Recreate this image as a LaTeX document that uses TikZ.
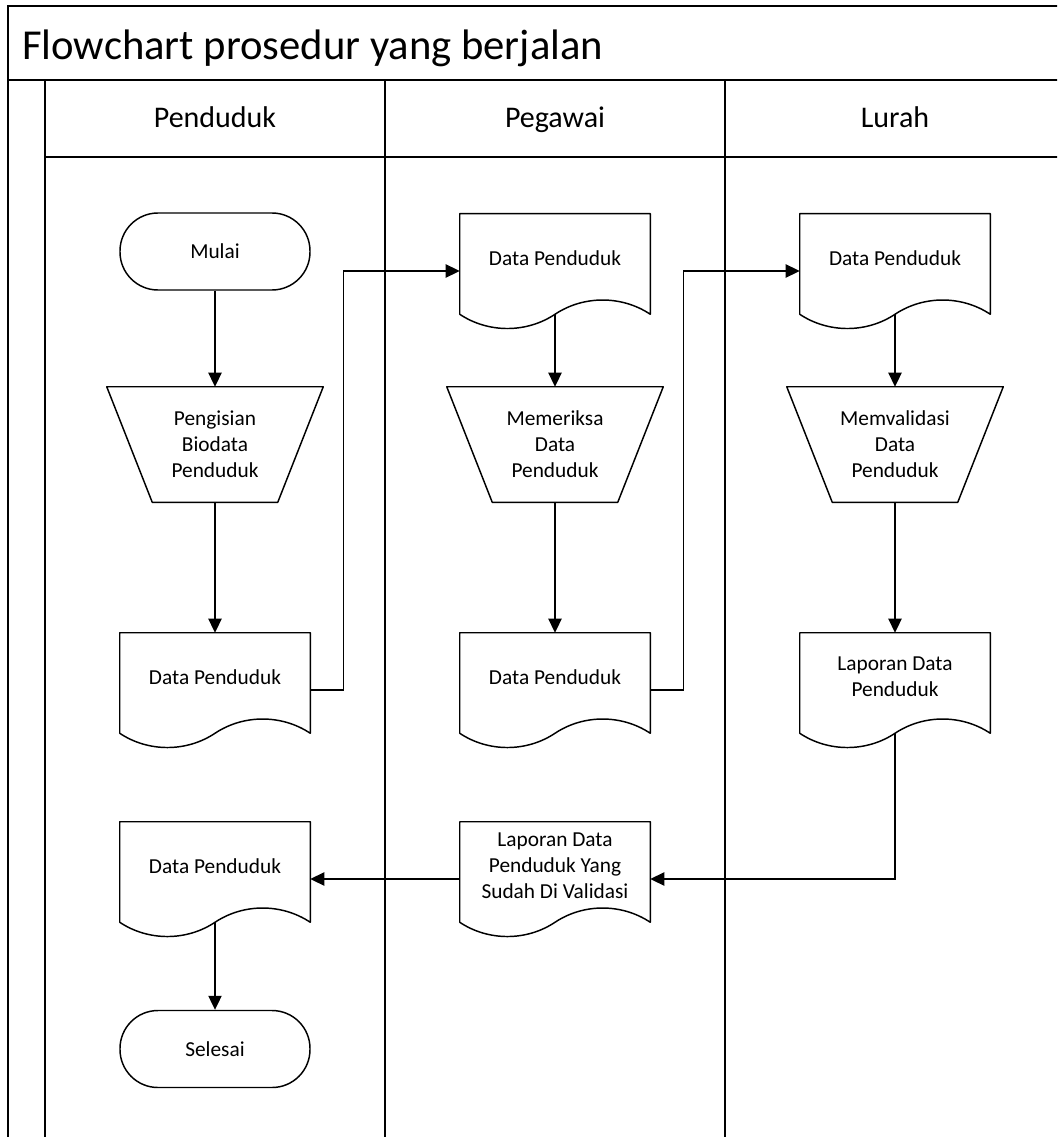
\documentclass[tikz,border=0pt]{standalone}
\usepackage{fontspec}
\setmainfont{Carlito}
\usetikzlibrary{arrows.meta,calc}
\tikzset{
  frameline/.style={line width=1.5pt, line cap=rect},
  outline/.style={line width=1.1pt, line join=round},
  conn/.style={line width=0.8pt, -{Triangle[length=10.5pt,width=10pt]}},
  txt/.style={font=\fontsize{16}{19.5}\selectfont, align=center, inner sep=0pt},
  docnode/.style={draw=none, inner sep=0pt, minimum width=142.5pt, minimum height=85.5pt},
  trapnode/.style={txt, draw=none, minimum width=162pt, minimum height=86.25pt},
  term/.style={txt, outline, draw, rounded corners=28.5pt, minimum width=142.5pt, minimum height=57.75pt},
  header/.style={font=\fontsize{22.5}{26}\selectfont, anchor=base},
}
\newcommand{\docshape}[4]{%
  \node[docnode] (#1) at (#2,#3+57) {};
  \draw[outline] (#1.north west) -- (#1.north east) -- ($(#1.south east)+(0,-14)$)
    .. controls +(-28.5,-19) and +(28.5,-19) .. ($(#1.south)+(0,-14)$)
    .. controls +(-28.5,19) and +(28.5,19) .. ($(#1.south west)+(0,-14)$) -- cycle;
  \node[txt] (#1-text) at ([yshift=9.75pt]#1.center) {#4};
}
\newcommand{\trapshape}[4]{%
  \node[trapnode] (#1) at (#2,#3) {#4};
  \draw[outline] (#1.north west) -- (#1.north east) -- ($(#1.south east)+(-45.5,0)$)
    -- ($(#1.south west)+(45.5,0)$) -- cycle;
}
\begin{document}
\begin{tikzpicture}[x=0.75pt,y=-0.75pt]
\useasboundingbox (0,0) rectangle (1057,1137);
\clip (0,0) rectangle (1057,1137);
\fill[white] (0,0) rectangle (1057,1137);
% frame
\draw[frameline] (1060,6) -- (8,6) -- (8,1140);
\draw[frameline] (8,80) -- (1060,80);
\draw[frameline] (45,80) -- (45,1140);
\draw[frameline] (45,157) -- (1060,157);
\draw[frameline] (385,80) -- (385,1140);
\draw[frameline] (725,80) -- (725,1140);
\node[anchor=base west, font=\fontsize{32}{40}\selectfont, inner sep=0pt] (title) at (22,60) {Flowchart prosedur yang berjalan};
\node[header] (hpend) at (215,128) {Penduduk};
\node[header] (hpeg) at (555,128) {Pegawai};
\node[header] (hlur) at (895,128) {Lurah};
% Penduduk lane
\node[term] (mulai) at (215,251.5) {Mulai};
\trapshape{isi}{215}{444.5}{Pengisian\\Biodata\\Penduduk}
\docshape{pdd1}{215}{633}{Data Penduduk}
\docshape{pdd2}{215}{822}{Data Penduduk}
\node[term] (selesai) at (215,1049) {Selesai};
% Pegawai lane
\docshape{pgd1}{555}{214}{Data Penduduk}
\trapshape{pgt}{555}{444.5}{Memeriksa\\Data\\Penduduk}
\docshape{pgd2}{555}{633}{Data Penduduk}
\docshape{pgd3}{555}{822}{Laporan Data\\Penduduk Yang\\Sudah Di Validasi}
% Lurah lane
\docshape{lud1}{895}{214}{Data Penduduk}
\trapshape{lut}{895}{444.5}{Memvalidasi\\Data\\Penduduk}
\docshape{lud2}{895}{633}{Laporan Data\\Penduduk}
% connectors
\draw[conn] (mulai.south) -- (isi.north);
\draw[conn] (isi.south) -- (pdd1.north);
\draw[conn] (pdd1.east) -- ++(33,0) |- (pgd1.west);
\draw[conn] ($(pgd1.south)+(0,-14)$) -- (pgt.north);
\draw[conn] (pgt.south) -- (pgd2.north);
\draw[conn] (pgd2.east) -- ++(33,0) |- (lud1.west);
\draw[conn] ($(lud1.south)+(0,-14)$) -- (lut.north);
\draw[conn] (lut.south) -- (lud2.north);
\draw[conn] ($(lud2.south)+(0,-14)$) |- (pgd3.east);
\draw[conn] (pgd3.west) -- (pdd2.east);
\draw[conn] ($(pdd2.south)+(0,-14)$) -- (selesai.north);
\end{tikzpicture}
\end{document}
